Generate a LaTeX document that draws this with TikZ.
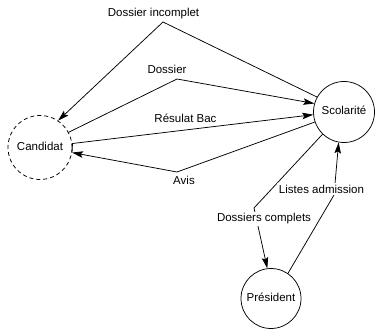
\documentclass[tikz,border=0pt]{standalone}
\usepackage{fontspec}
\setmainfont{Liberation Sans}
\usetikzlibrary{arrows.meta}
\tikzset{
  every node/.style={font=\fontsize{11.5}{13.8}\selectfont},
  state/.style={draw, circle, inner sep=0pt, line width=0.75pt, text height=8pt, text depth=2.5pt},
  flow/.style={line width=0.75pt, -{Stealth[length=11pt,width=6.5pt,inset=2pt]}},
  lbl/.style={fill=white, inner sep=1.5pt, anchor=base},
}
\begin{document}
\begin{tikzpicture}[x=1pt,y=-1pt]
\useasboundingbox (0,0) rectangle (375,331);
% states
\node[state, dashed, dash pattern=on 4pt off 3pt, minimum size=64pt] (cand) at (40,147.5) {Candidat};
\node[state, minimum size=61pt] (sco) at (344,112) {Scolarité};
\node[state, minimum size=60pt] (pres) at (271,298.5) {Président};
% bend points
\coordinate (pinc) at (163,22);
\coordinate (pdos) at (177,79);
\coordinate (pbac) at (72.5,143.5);
\coordinate (pavis) at (177,172);
\coordinate (pdc) at (254,208);
\coordinate (pla) at (334,195);
% connectors
\draw[flow] (sco.151) -- (pinc) -- (cand.56);
\draw[flow] (cand.28) -- (pdos) -- (sco.164);
\draw[flow] (cand.-8) -- (pbac) -- (sco.185.5);
\draw[flow] (sco.199.5) -- (pavis) -- (cand.-9);
\draw[flow] (sco.226) -- (pdc) -- (pres.97.5);
\draw[flow] (pres.56) -- (pla) -- (sco.260.5);
% labels
\node[lbl] (linc) at (153.5,17) {Dossier incomplet};
\node[lbl] (ldos) at (167,74) {Dossier};
\node[lbl] (lbac) at (185.5,122.7) {Résulat Bac};
\node[lbl] (lavis) at (184,185) {Avis};
\node[lbl] (lla) at (321.5,193.3) {Listes admission};
\node[lbl] (ldc) at (264,221.7) {Dossiers complets};
\end{tikzpicture}
\end{document}
